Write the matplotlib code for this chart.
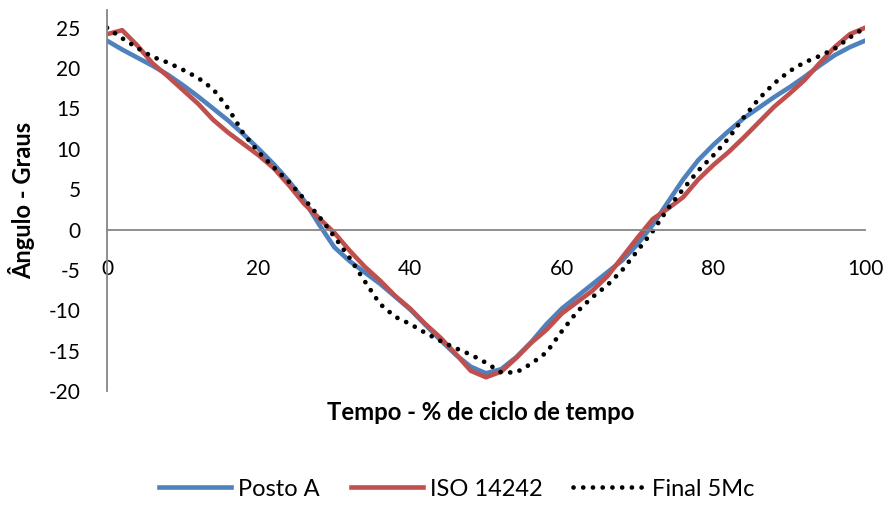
import matplotlib
matplotlib.use("Agg")
import matplotlib.pyplot as plt
from matplotlib.lines import Line2D

plt.rcParams['font.family'] = ['Lato', 'DejaVu Sans']
plt.rcParams['axes.unicode_minus'] = False

x = list(range(0, 101, 2))

posto_a = [23.4, 22.3, 21.3, 20.3, 19.2, 17.9, 16.5, 15.0, 13.5, 11.8,
           10.0, 8.1, 6.0, 3.6, 0.6, -2.2, -3.9, -5.3, -6.7, -8.3,
           -9.9, -11.8, -13.7, -15.5, -17.0, -17.8, -17.3, -15.8, -13.9, -11.7,
           -9.8, -8.3, -6.8, -5.3, -3.8, -1.8, 0.6, 3.4, 6.2, 8.6,
           10.5, 12.2, 13.8, 15.1, 16.4, 17.6, 18.9, 20.3, 21.6, 22.6, 23.4]

iso_14242 = [24.2, 24.7, 22.8, 20.6, 19.0, 17.3, 15.6, 13.6, 12.0, 10.6,
             9.2, 7.6, 5.5, 3.2, 1.4, -0.4, -2.6, -4.6, -6.3, -8.2,
             -9.8, -11.7, -13.4, -15.4, -17.5, -18.3, -17.6, -15.9, -14.0, -12.4,
             -10.4, -9.0, -7.6, -5.8, -3.4, -1.0, 1.3, 2.6, 4.0, 6.2,
             8.0, 9.6, 11.4, 13.3, 15.2, 16.8, 18.5, 20.6, 22.6, 24.2, 25.0]

final_5mc = [25.0, 23.7, 22.5, 21.4, 20.7, 19.8, 18.8, 17.4, 15.0, 11.9,
             9.6, 7.7, 5.9, 3.8, 1.6, -0.9, -3.5, -6.4, -9.2, -10.8,
             -11.7, -12.8, -13.8, -14.7, -15.5, -16.5, -17.7, -17.7, -16.6, -15.2,
             -12.6, -10.2, -8.4, -6.9, -5.0, -2.6, -0.2, 2.6, 5.0, 7.3,
             9.2, 11.3, 13.9, 16.2, 18.1, 19.6, 20.7, 21.5, 22.4, 23.8, 25.0]

y_ticks = [-20, -15, -10, -5, 0, 5, 10, 15, 20, 25]
x_ticks = [0, 20, 40, 60, 80, 100]

blue = '#4F81BD'
red = '#C0504D'

fig = plt.figure(figsize=(8.88, 5.08), dpi=100)
ax = fig.add_axes([107/888, (508-391)/508, (865-107)/888, (391-10)/508])

ax.plot(x, posto_a, color=blue, lw=3.3, solid_capstyle='round', solid_joinstyle='round', label='Posto A')
ax.plot(x, iso_14242, color=red, lw=3.3, solid_capstyle='round', solid_joinstyle='round', label='ISO 14242')
ax.plot(x, final_5mc, color='black', lw=3.4, linestyle=(0, (0.01, 2.05)), dash_capstyle='round', label='Final 5Mc')

ax.set_xlim(0, 100)
ax.set_ylim(-20, 27.2)
ax.set_yticks(y_ticks)
ax.set_xticks(x_ticks)

for s in ['top', 'right']:
    ax.spines[s].set_visible(False)
ax.spines['bottom'].set_position(('data', 0))
ax.spines['bottom'].set_color('#868686')
ax.spines['left'].set_color('#868686')
ax.spines['bottom'].set_linewidth(1.3)
ax.spines['left'].set_linewidth(1.3)

ax.tick_params(axis='x', length=0, pad=21, labelsize=15)
ax.tick_params(axis='y', length=0, pad=19, labelsize=15)

fig.text(481/888, 1 - 413/508, 'Tempo - % de ciclo de tempo', ha='center', va='center',
         fontsize=17.2, fontweight='bold')
fig.text(22/888, 1 - 200/508, 'Ângulo - Graus', ha='center', va='center', rotation=90,
         fontsize=17, fontweight='bold')

handles = [Line2D([], [], color=blue, lw=3.3),
           Line2D([], [], color=red, lw=3.3),
           Line2D([], [], color='black', lw=3.4, linestyle=(0, (0.01, 2.05)), dash_capstyle='round')]
fig.legend(handles, ['Posto A', 'ISO 14242', 'Final 5Mc'], loc='center',
           bbox_to_anchor=(457/888, 1 - 489/508), ncol=3, frameon=False,
           fontsize=17, handlelength=3.05, handletextpad=0.3, columnspacing=1.3)

fig.savefig('out.png', dpi=100)
